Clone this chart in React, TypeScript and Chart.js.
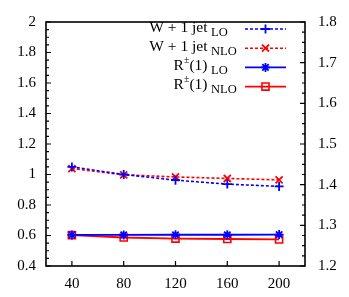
import { useEffect, useRef } from 'react';
import { Chart, registerables } from 'chart.js';

Chart.register(...registerables);

// ---- data ----
const xValues = [40, 80, 120, 160, 200];
const wJetLO = [1.05, 1.0, 0.963, 0.937, 0.922];
const wJetNLO = [1.039, 0.998, 0.984, 0.974, 0.965];
const rLO = [0.604, 0.604, 0.605, 0.605, 0.606];
const rNLO = [0.603, 0.587, 0.58, 0.577, 0.574];

const xTicks = [40, 80, 120, 160, 200];
const yTicks = [0.4, 0.6, 0.8, 1.0, 1.2, 1.4, 1.6, 1.8, 2.0];
const y2Ticks = [1.2, 1.3, 1.4, 1.5, 1.6, 1.7, 1.8];

// legend text parts: [main before sup, superscript, main after sup, subscript]
const legendParts: [string, string, string, string][] = [
  ['W + 1 jet', '', '', 'LO'],
  ['W + 1 jet', '', '', 'NLO'],
  ['R', '±', '(1)', 'LO'],
  ['R', '±', '(1)', 'NLO'],
];

const BLUE = '#0000ff';
const RED = '#ff0000';
const SERIF = '"Liberation Serif", "DejaVu Serif", serif';

function drawMarker(ctx: CanvasRenderingContext2D, style: string, x: number, y: number, r: number) {
  ctx.beginPath();
  if (style === 'cross') {
    ctx.moveTo(x - r, y); ctx.lineTo(x + r, y);
    ctx.moveTo(x, y - r); ctx.lineTo(x, y + r);
    ctx.stroke();
  } else if (style === 'crossRot') {
    const d = r * Math.SQRT1_2;
    ctx.moveTo(x - d, y - d); ctx.lineTo(x + d, y + d);
    ctx.moveTo(x - d, y + d); ctx.lineTo(x + d, y - d);
    ctx.stroke();
  } else if (style === 'star') {
    const d = r * Math.SQRT1_2;
    ctx.moveTo(x - r, y); ctx.lineTo(x + r, y);
    ctx.moveTo(x, y - r); ctx.lineTo(x, y + r);
    ctx.moveTo(x - d, y - d); ctx.lineTo(x + d, y + d);
    ctx.moveTo(x - d, y + d); ctx.lineTo(x + d, y - d);
    ctx.stroke();
  } else if (style === 'rect') {
    const s = r * Math.SQRT1_2;
    ctx.rect(x - s, y - s, 2 * s, 2 * s);
    ctx.stroke();
  }
}

const framePlugin = {
  id: 'frameTicksLegend',
  afterDraw(chart: any) {
    const ctx: CanvasRenderingContext2D = chart.ctx;
    const { left, right, top, bottom } = chart.chartArea;
    const ys = chart.scales.y;
    const y2s = chart.scales.y2;
    const xs = chart.scales.x;
    ctx.save();
    ctx.strokeStyle = '#000';
    ctx.lineWidth = 1.6;
    ctx.setLineDash([]);
    ctx.strokeRect(left, top, right - left, bottom - top);

    ctx.lineWidth = 1.2;
    const tickY = (scale: any, ticks: number[], x0: number, dir: number) => {
      ctx.beginPath();
      for (let i = 0; i < ticks.length; i++) {
        const p = scale.getPixelForValue(ticks[i]);
        ctx.moveTo(x0, p); ctx.lineTo(x0 + dir * 5, p);
        if (i < ticks.length - 1) {
          for (let k = 1; k < 4; k++) {
            const v = ticks[i] + ((ticks[i + 1] - ticks[i]) * k) / 4;
            const q = scale.getPixelForValue(v);
            ctx.moveTo(x0, q); ctx.lineTo(x0 + dir * 3, q);
          }
        }
      }
      ctx.stroke();
    };
    tickY(ys, yTicks, left, 1);
    tickY(y2s, y2Ticks, right, -1);
    ctx.beginPath();
    for (const t of xTicks) {
      const p = xs.getPixelForValue(t);
      ctx.moveTo(p, bottom); ctx.lineTo(p, bottom - 5);
    }
    ctx.stroke();

    // legend
    const mainFont = `15.5px ${SERIF}`;
    const subFont = `12.5px ${SERIF}`;
    const supFont = `10px ${SERIF}`;
    const textRight = 207.5;
    const subLeft = 211;
    chart.data.datasets.forEach((ds: any, i: number) => {
      const parts = legendParts[i];
      const ly = 29 + i * 19.2;
      const base = ly + 2.8;
      ctx.fillStyle = '#000';
      ctx.textBaseline = 'alphabetic';
      ctx.textAlign = 'left';
      ctx.font = mainFont;
      const w1 = ctx.measureText(parts[0]).width;
      const w3 = ctx.measureText(parts[2]).width;
      ctx.font = supFont;
      const w2 = ctx.measureText(parts[1]).width;
      let x = textRight - w1 - w2 - w3;
      ctx.font = mainFont;
      ctx.fillText(parts[0], x, base);
      x += w1;
      if (parts[1]) {
        ctx.font = supFont;
        ctx.fillText(parts[1], x, base - 7);
        x += w2;
      }
      ctx.font = mainFont;
      ctx.fillText(parts[2], x, base);
      ctx.font = subFont;
      ctx.fillText(parts[3], subLeft, base + 4);

      ctx.strokeStyle = ds.borderColor;
      ctx.lineWidth = ds.borderWidth;
      ctx.setLineDash(ds.borderDash || []);
      ctx.beginPath();
      ctx.moveTo(245, ly); ctx.lineTo(286, ly);
      ctx.stroke();
      ctx.setLineDash([]);
      ctx.lineWidth = ds.pointBorderWidth;
      drawMarker(ctx, ds.pointStyle, 265.5, ly, ds.pointRadius);
    });
    ctx.restore();
  },
};

const fmt = (v: number) => String(Number(v.toFixed(2)));

export default function App() {
  const ref = useRef<HTMLCanvasElement | null>(null);
  useEffect(() => {
    document.body.style.margin = '0';
    const canvas = ref.current!;
    const mk = (vals: number[]) => xValues.map((x, i) => ({ x, y: vals[i] }));
    const chart = new Chart(canvas, {
      type: 'line',
      data: {
        datasets: [
          {
            label: 'W + 1 jet LO', data: mk(wJetLO), borderColor: BLUE, backgroundColor: BLUE,
            borderWidth: 1.6, borderDash: [3, 2], pointStyle: 'cross', pointRadius: 4.5,
            pointBorderWidth: 1.8, pointBorderColor: BLUE, fill: false, yAxisID: 'y',
          },
          {
            label: 'W + 1 jet NLO', data: mk(wJetNLO), borderColor: RED, backgroundColor: RED,
            borderWidth: 1.6, borderDash: [3, 2], pointStyle: 'crossRot', pointRadius: 5,
            pointBorderWidth: 1.8, pointBorderColor: RED, fill: false, yAxisID: 'y',
          },
          {
            label: 'R±(1) LO', data: mk(rLO), borderColor: BLUE, backgroundColor: BLUE,
            borderWidth: 1.8, pointStyle: 'star', pointRadius: 4.5,
            pointBorderWidth: 1.8, pointBorderColor: BLUE, fill: false, yAxisID: 'y',
          },
          {
            label: 'R±(1) NLO', data: mk(rNLO), borderColor: RED, backgroundColor: 'transparent',
            borderWidth: 1.8, pointStyle: 'rect', pointRadius: 5,
            pointBorderWidth: 1.6, pointBorderColor: RED, pointBackgroundColor: 'transparent',
            fill: false, yAxisID: 'y',
          },
        ] as any,
      },
      options: {
        animation: false,
        responsive: false,
        events: [],
        layout: { padding: { top: 15, left: 0, right: 0, bottom: 0 } },
        plugins: { legend: { display: false }, title: { display: false }, tooltip: { enabled: false } },
        scales: {
          x: {
            type: 'linear', min: 20, max: 220,
            grid: { display: false, drawTicks: false },
            border: { display: false },
            afterBuildTicks: (s: any) => { s.ticks = xTicks.map((v) => ({ value: v })); },
            afterFit: (s: any) => { s.height = 31; },
            ticks: { color: '#000', font: { family: SERIF, size: 15 }, padding: 9, maxRotation: 0, callback: (v: any) => fmt(Number(v)) },
          },
          y: {
            type: 'linear', position: 'left', min: 0.4, max: 2,
            grid: { display: false, drawTicks: false },
            border: { display: false },
            afterBuildTicks: (s: any) => { s.ticks = yTicks.map((v) => ({ value: v })); },
            afterFit: (s: any) => { s.width = 46; },
            ticks: { color: '#000', font: { family: SERIF, size: 15 }, padding: 10, callback: (v: any) => fmt(Number(v)) },
          },
          y2: {
            type: 'linear', position: 'right', min: 1.2, max: 1.8,
            grid: { display: false, drawTicks: false },
            border: { display: false },
            afterBuildTicks: (s: any) => { s.ticks = y2Ticks.map((v) => ({ value: v })); },
            afterFit: (s: any) => { s.width = 44; },
            ticks: { color: '#000', font: { family: SERIF, size: 15 }, padding: 13, callback: (v: any) => fmt(Number(v)) },
          },
        },
      } as any,
      plugins: [framePlugin],
    });
    return () => chart.destroy();
  }, []);
  return (
    <div style={{ position: 'absolute', left: 0, top: 0, width: 349, height: 297, background: '#fff' }}>
      <canvas ref={ref} width={349} height={297} style={{ width: 349, height: 297, display: 'block' }} />
    </div>
  );
}
